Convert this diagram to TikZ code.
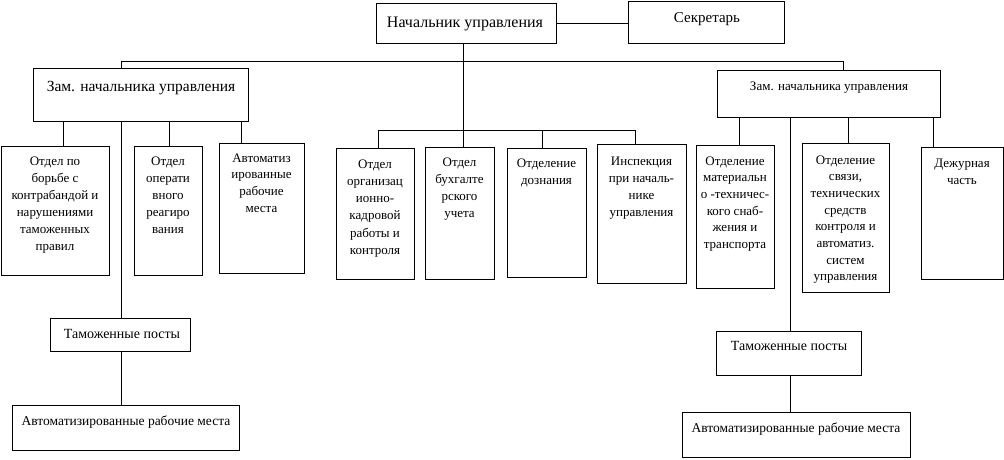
\documentclass[tikz,border=0pt]{standalone}
\usepackage{fontspec}
\setmainfont{Liberation Serif}
\newcommand\mlines[2]{\parbox[t]{130pt}{\centering\fontsize{13}{#1}\selectfont #2}}
\begin{document}
\begin{tikzpicture}[x=1pt,y=-1pt,line width=1pt,
  box/.style={draw,rectangle,inner sep=0pt,anchor=north west},
  txt/.style={inner sep=0pt,anchor=base},
  conn/.style={draw,line width=1pt}]
\useasboundingbox (0,0) rectangle (1004,459);
% boxes
\node[box,minimum width=180pt,minimum height=40pt] (top) at (376,3) {};
\node[box,minimum width=156pt,minimum height=42pt] (sec) at (628,1) {};
\node[box,minimum width=215pt,minimum height=53pt] (ldep) at (33,68) {};
\node[box,minimum width=223pt,minimum height=47pt] (rdep) at (717,70) {};
\node[box,minimum width=108pt,minimum height=129pt] (A) at (1,146) {};
\node[box,minimum width=68pt,minimum height=129pt] (B) at (134,146) {};
\node[box,minimum width=85pt,minimum height=130pt] (C) at (219,143) {};
\node[box,minimum width=78pt,minimum height=131pt] (m1) at (336,148) {};
\node[box,minimum width=69pt,minimum height=132pt] (m2) at (425,147) {};
\node[box,minimum width=79pt,minimum height=129pt] (m3) at (507,148) {};
\node[box,minimum width=89pt,minimum height=139pt] (m4) at (597,144) {};
\node[box,minimum width=78pt,minimum height=143pt] (r1) at (696,145) {};
\node[box,minimum width=87pt,minimum height=149pt] (r2) at (802,143) {};
\node[box,minimum width=82pt,minimum height=132pt] (r3) at (921,147) {};
\node[box,minimum width=140pt,minimum height=33pt] (tpL) at (50,318) {};
\node[box,minimum width=227pt,minimum height=45pt] (armL) at (12,405) {};
\node[box,minimum width=145pt,minimum height=44pt] (tpR) at (716,331) {};
\node[box,minimum width=228pt,minimum height=45pt] (armR) at (682,412) {};
% texts
\node[txt,font=\fontsize{16}{19}\selectfont] (topT) at (465,27) {Начальник управления};
\node[txt,font=\fontsize{15}{18}\selectfont] (secT) at (707,22) {Секретарь};
\node[txt,font=\fontsize{15.5}{18}\selectfont] (ldepT) at (141,91) {Зам. начальника управления};
\node[txt,font=\fontsize{13}{16}\selectfont] (rdepT) at (829,90) {Зам. начальника управления};
\node[txt] (AT) at (55,165) {\mlines{17.1}{Отдел по\\борьбе с\\контрабандой и\\нарушениями\\таможенных\\правил}};
\node[txt] (BT) at (168,165) {\mlines{17.1}{Отдел\\операти\\вного\\реагиро\\вания}};
\node[txt] (CT) at (261.5,162) {\mlines{16.8}{Автоматиз\\ированные\\рабочие\\места}};
\node[txt] (m1T) at (375,168) {\mlines{17.3}{Отдел\\организац\\ионно-\\кадровой\\работы и\\контроля}};
\node[txt] (m2T) at (459.5,166) {\mlines{17}{Отдел\\бухгалте\\рского\\учета}};
\node[txt] (m3T) at (546.5,167) {\mlines{17}{Отделение\\дознания}};
\node[txt] (m4T) at (641.5,165) {\mlines{17}{Инспекция\\при началь-\\нике\\управления}};
\node[txt] (r1T) at (735,165) {\mlines{16.7}{Отделение\\материальн\\о -техничес-\\кого снаб-\\жения и\\транспорта}};
\node[txt] (r2T) at (845.5,164) {\mlines{16.7}{Отделение\\связи,\\технических\\средств\\контроля и\\автоматиз.\\систем\\управления}};
\node[txt] (r3T) at (962,167) {\mlines{17}{Дежурная\\часть}};
\node[txt,font=\fontsize{14}{17}\selectfont] (tpLT) at (122,338) {Таможенные посты};
\node[txt,font=\fontsize{13.5}{16}\selectfont] (armLT) at (126,425) {Автоматизированные рабочие места};
\node[txt,font=\fontsize{14}{17}\selectfont] (tpRT) at (789,350) {Таможенные посты};
\node[txt,font=\fontsize{13.5}{16}\selectfont] (armRT) at (796,432) {Автоматизированные рабочие места};
% bus coordinates
\coordinate (busL) at (121,61);
\coordinate (busR) at (843,61);
\coordinate (mainX) at (463,43);
\coordinate (mb1) at (378,130);
\coordinate (mb3) at (542,130);
\coordinate (mb4) at (635,130);
\coordinate (lA) at (63,121);
\coordinate (lT) at (121,121);
\coordinate (lB) at (169,121);
\coordinate (lC) at (241,121);
\coordinate (rA) at (739,117);
\coordinate (rT) at (790,117);
\coordinate (rB) at (848,117);
\coordinate (rC) at (933,117);
% connectors
\draw[conn] (top.east) -- (top.east -| sec.west);
\draw[conn] (mainX) -- (mainX |- m2.north);
\draw[conn] (busL |- ldep.north) -- (busL) -- (busR) -- (busR |- rdep.north);
\draw[conn] (mb1 |- m1.north) -- (mb1) -- (mb4) -- (mb4 |- m4.north);
\draw[conn] (mb3) -- (mb3 |- m3.north);
\draw[conn] (lA) -- (lA |- A.north);
\draw[conn] (lT) -- (lT |- tpL.north);
\draw[conn] (lB) -- (lB |- B.north);
\draw[conn] (lC) -- (lC |- C.north);
\draw[conn] (lT |- tpL.south) -- (lT |- armL.north);
\draw[conn] (rA) -- (rA |- r1.north);
\draw[conn] (rT) -- (rT |- tpR.north);
\draw[conn] (rB) -- (rB |- r2.north);
\draw[conn] (rC) -- (rC |- r3.north);
\draw[conn] (rT |- tpR.south) -- (rT |- armR.north);
\end{tikzpicture}
\end{document}
